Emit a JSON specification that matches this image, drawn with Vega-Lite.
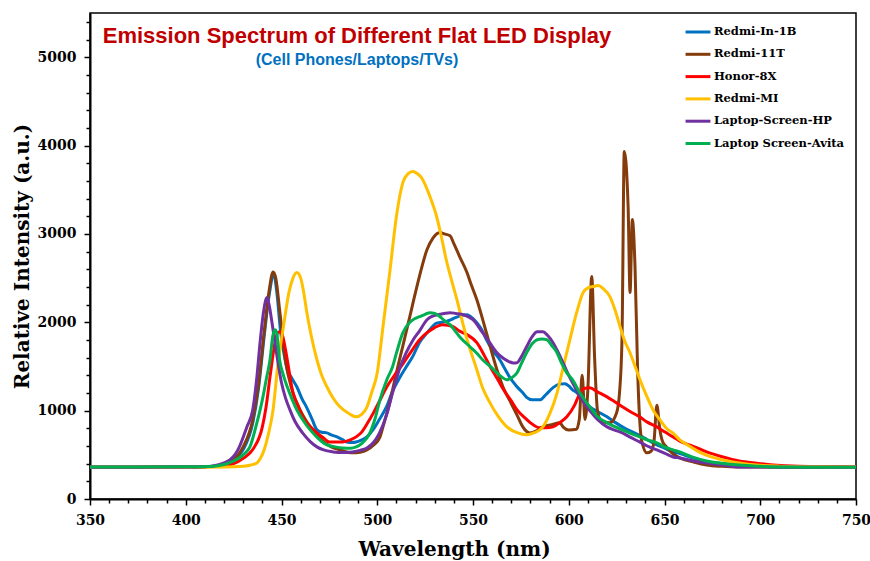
{
"$schema": "https://vega.github.io/schema/vega-lite/v6.json",
"width": 766, "height": 486,
"autosize": {"type": "none"},
"padding": {"left": 90, "top": 13, "right": 14, "bottom": 62},
"background": "white",
"view": {"stroke": "#000000", "strokeWidth": 1.5},
"title": {"text": "Emission Spectrum of Different Flat LED Display", "subtitle": "(Cell Phones/Laptops/TVs)", "anchor": "middle", "dx": -116, "offset": -56, "font": "Liberation Sans", "fontSize": 22, "fontWeight": "bold", "color": "#C00000", "subtitleFont": "Liberation Sans", "subtitleFontSize": 16, "subtitleFontWeight": "bold", "subtitleColor": "#0070C0", "subtitlePadding": 4},
"data": {"values": [
{"s":"Redmi-In-1B","w":350,"v":362},{"s":"Redmi-In-1B","w":380,"v":362},{"s":"Redmi-In-1B","w":400,"v":363},{"s":"Redmi-In-1B","w":410,"v":366},{"s":"Redmi-In-1B","w":415,"v":372},{"s":"Redmi-In-1B","w":420,"v":390},{"s":"Redmi-In-1B","w":425,"v":440},{"s":"Redmi-In-1B","w":430,"v":560},{"s":"Redmi-In-1B","w":435,"v":860},{"s":"Redmi-In-1B","w":438,"v":1250},{"s":"Redmi-In-1B","w":441,"v":1850},{"s":"Redmi-In-1B","w":443.5,"v":2300},{"s":"Redmi-In-1B","w":446,"v":2540},{"s":"Redmi-In-1B","w":447.5,"v":2350},{"s":"Redmi-In-1B","w":449.5,"v":1900},{"s":"Redmi-In-1B","w":451.5,"v":1620},{"s":"Redmi-In-1B","w":453,"v":1463},{"s":"Redmi-In-1B","w":455,"v":1380},{"s":"Redmi-In-1B","w":458,"v":1270},{"s":"Redmi-In-1B","w":461,"v":1120},{"s":"Redmi-In-1B","w":463,"v":1043},{"s":"Redmi-In-1B","w":466,"v":900},{"s":"Redmi-In-1B","w":468.5,"v":782},{"s":"Redmi-In-1B","w":471,"v":755},{"s":"Redmi-In-1B","w":473.7,"v":748},{"s":"Redmi-In-1B","w":476,"v":725},{"s":"Redmi-In-1B","w":479,"v":703},{"s":"Redmi-In-1B","w":482,"v":670},{"s":"Redmi-In-1B","w":484,"v":646},{"s":"Redmi-In-1B","w":487,"v":640},{"s":"Redmi-In-1B","w":489,"v":646},{"s":"Redmi-In-1B","w":492,"v":670},{"s":"Redmi-In-1B","w":494.6,"v":703},{"s":"Redmi-In-1B","w":498,"v":790},{"s":"Redmi-In-1B","w":501,"v":896},{"s":"Redmi-In-1B","w":505,"v":1050},{"s":"Redmi-In-1B","w":508,"v":1220},{"s":"Redmi-In-1B","w":512,"v":1383},{"s":"Redmi-In-1B","w":515,"v":1490},{"s":"Redmi-In-1B","w":518.7,"v":1620},{"s":"Redmi-In-1B","w":522,"v":1769},{"s":"Redmi-In-1B","w":526,"v":1880},{"s":"Redmi-In-1B","w":531,"v":1990},{"s":"Redmi-In-1B","w":536,"v":2010},{"s":"Redmi-In-1B","w":539.6,"v":2040},{"s":"Redmi-In-1B","w":543,"v":2070},{"s":"Redmi-In-1B","w":546.9,"v":2086},{"s":"Redmi-In-1B","w":549,"v":2060},{"s":"Redmi-In-1B","w":552,"v":1995},{"s":"Redmi-In-1B","w":555,"v":1900},{"s":"Redmi-In-1B","w":557,"v":1803},{"s":"Redmi-In-1B","w":560,"v":1690},{"s":"Redmi-In-1B","w":564,"v":1576},{"s":"Redmi-In-1B","w":567,"v":1460},{"s":"Redmi-In-1B","w":569,"v":1383},{"s":"Redmi-In-1B","w":573,"v":1270},{"s":"Redmi-In-1B","w":576,"v":1202},{"s":"Redmi-In-1B","w":578,"v":1150},{"s":"Redmi-In-1B","w":581,"v":1122},{"s":"Redmi-In-1B","w":585,"v":1122},{"s":"Redmi-In-1B","w":588,"v":1180},{"s":"Redmi-In-1B","w":591.8,"v":1260},{"s":"Redmi-In-1B","w":595,"v":1300},{"s":"Redmi-In-1B","w":598,"v":1304},{"s":"Redmi-In-1B","w":600,"v":1280},{"s":"Redmi-In-1B","w":602,"v":1236},{"s":"Redmi-In-1B","w":604.3,"v":1202},{"s":"Redmi-In-1B","w":608,"v":1110},{"s":"Redmi-In-1B","w":611,"v":1043},{"s":"Redmi-In-1B","w":615,"v":990},{"s":"Redmi-In-1B","w":620,"v":930},{"s":"Redmi-In-1B","w":624,"v":870},{"s":"Redmi-In-1B","w":628,"v":816},{"s":"Redmi-In-1B","w":632,"v":770},{"s":"Redmi-In-1B","w":637,"v":720},{"s":"Redmi-In-1B","w":641,"v":670},{"s":"Redmi-In-1B","w":646,"v":612},{"s":"Redmi-In-1B","w":650,"v":575},{"s":"Redmi-In-1B","w":654,"v":533},{"s":"Redmi-In-1B","w":658,"v":515},{"s":"Redmi-In-1B","w":664,"v":470},{"s":"Redmi-In-1B","w":672,"v":420},{"s":"Redmi-In-1B","w":680,"v":400},{"s":"Redmi-In-1B","w":689,"v":374},{"s":"Redmi-In-1B","w":700,"v":368},{"s":"Redmi-In-1B","w":720,"v":363},{"s":"Redmi-In-1B","w":750,"v":360},
{"s":"Redmi-11T","w":350,"v":360},{"s":"Redmi-11T","w":400,"v":362},{"s":"Redmi-11T","w":410,"v":365},{"s":"Redmi-11T","w":415,"v":370},{"s":"Redmi-11T","w":420,"v":390},{"s":"Redmi-11T","w":425,"v":440},{"s":"Redmi-11T","w":430,"v":590},{"s":"Redmi-11T","w":435,"v":900},{"s":"Redmi-11T","w":438,"v":1300},{"s":"Redmi-11T","w":441,"v":1900},{"s":"Redmi-11T","w":443.5,"v":2350},{"s":"Redmi-11T","w":445.6,"v":2570},{"s":"Redmi-11T","w":447,"v":2500},{"s":"Redmi-11T","w":449,"v":2143},{"s":"Redmi-11T","w":452,"v":1576},{"s":"Redmi-11T","w":455.5,"v":1236},{"s":"Redmi-11T","w":459.7,"v":1009},{"s":"Redmi-11T","w":465,"v":816},{"s":"Redmi-11T","w":472,"v":646},{"s":"Redmi-11T","w":476,"v":590},{"s":"Redmi-11T","w":480.5,"v":556},{"s":"Redmi-11T","w":487,"v":522},{"s":"Redmi-11T","w":491,"v":530},{"s":"Redmi-11T","w":494.6,"v":556},{"s":"Redmi-11T","w":498,"v":610},{"s":"Redmi-11T","w":501.4,"v":700},{"s":"Redmi-11T","w":503,"v":816},{"s":"Redmi-11T","w":506,"v":1050},{"s":"Redmi-11T","w":510,"v":1428},{"s":"Redmi-11T","w":513,"v":1700},{"s":"Redmi-11T","w":517,"v":2063},{"s":"Redmi-11T","w":519,"v":2250},{"s":"Redmi-11T","w":522,"v":2517},{"s":"Redmi-11T","w":526,"v":2823},{"s":"Redmi-11T","w":529,"v":2950},{"s":"Redmi-11T","w":532.8,"v":3016},{"s":"Redmi-11T","w":535,"v":3000},{"s":"Redmi-11T","w":538,"v":2980},{"s":"Redmi-11T","w":540,"v":2890},{"s":"Redmi-11T","w":543,"v":2744},{"s":"Redmi-11T","w":546.9,"v":2560},{"s":"Redmi-11T","w":549,"v":2430},{"s":"Redmi-11T","w":552,"v":2256},{"s":"Redmi-11T","w":557,"v":1882},{"s":"Redmi-11T","w":562.5,"v":1463},{"s":"Redmi-11T","w":566,"v":1250},{"s":"Redmi-11T","w":569,"v":1122},{"s":"Redmi-11T","w":573,"v":950},{"s":"Redmi-11T","w":576,"v":816},{"s":"Redmi-11T","w":579.7,"v":748},{"s":"Redmi-11T","w":583,"v":770},{"s":"Redmi-11T","w":586.5,"v":816},{"s":"Redmi-11T","w":591,"v":840},{"s":"Redmi-11T","w":595.4,"v":862},{"s":"Redmi-11T","w":597,"v":816},{"s":"Redmi-11T","w":600,"v":782},{"s":"Redmi-11T","w":604,"v":790},{"s":"Redmi-11T","w":605.5,"v":900},{"s":"Redmi-11T","w":607,"v":1400},{"s":"Redmi-11T","w":608.5,"v":900},{"s":"Redmi-11T","w":610,"v":1250},{"s":"Redmi-11T","w":612,"v":2517},{"s":"Redmi-11T","w":613.5,"v":1600},{"s":"Redmi-11T","w":615,"v":1000},{"s":"Redmi-11T","w":617,"v":880},{"s":"Redmi-11T","w":621.5,"v":862},{"s":"Redmi-11T","w":625,"v":975},{"s":"Redmi-11T","w":626.5,"v":1200},{"s":"Redmi-11T","w":627.8,"v":1803},{"s":"Redmi-11T","w":629,"v":3934},{"s":"Redmi-11T","w":631,"v":3310},{"s":"Redmi-11T","w":632,"v":2336},{"s":"Redmi-11T","w":633.2,"v":3163},{"s":"Redmi-11T","w":634.6,"v":2630},{"s":"Redmi-11T","w":636,"v":1428},{"s":"Redmi-11T","w":638,"v":669},{"s":"Redmi-11T","w":640.8,"v":522},{"s":"Redmi-11T","w":643,"v":540},{"s":"Redmi-11T","w":644.5,"v":650},{"s":"Redmi-11T","w":646,"v":1060},{"s":"Redmi-11T","w":647.6,"v":782},{"s":"Redmi-11T","w":649,"v":650},{"s":"Redmi-11T","w":651,"v":590},{"s":"Redmi-11T","w":654,"v":520},{"s":"Redmi-11T","w":658,"v":465},{"s":"Redmi-11T","w":665,"v":420},{"s":"Redmi-11T","w":672,"v":385},{"s":"Redmi-11T","w":680,"v":370},{"s":"Redmi-11T","w":689,"v":363},{"s":"Redmi-11T","w":720,"v":360},{"s":"Redmi-11T","w":750,"v":358},
{"s":"Honor-8X","w":350,"v":360},{"s":"Honor-8X","w":400,"v":362},{"s":"Honor-8X","w":415,"v":368},{"s":"Honor-8X","w":420,"v":378},{"s":"Honor-8X","w":425,"v":400},{"s":"Honor-8X","w":430,"v":460},{"s":"Honor-8X","w":435,"v":560},{"s":"Honor-8X","w":440,"v":816},{"s":"Honor-8X","w":442,"v":1050},{"s":"Honor-8X","w":444,"v":1383},{"s":"Honor-8X","w":446.6,"v":1769},{"s":"Honor-8X","w":448,"v":1880},{"s":"Honor-8X","w":449,"v":1893},{"s":"Honor-8X","w":450.5,"v":1850},{"s":"Honor-8X","w":452,"v":1700},{"s":"Honor-8X","w":453,"v":1576},{"s":"Honor-8X","w":456,"v":1202},{"s":"Honor-8X","w":458.5,"v":1060},{"s":"Honor-8X","w":461,"v":930},{"s":"Honor-8X","w":465,"v":820},{"s":"Honor-8X","w":468.5,"v":748},{"s":"Honor-8X","w":472,"v":690},{"s":"Honor-8X","w":475,"v":646},{"s":"Honor-8X","w":482,"v":646},{"s":"Honor-8X","w":486,"v":670},{"s":"Honor-8X","w":489,"v":703},{"s":"Honor-8X","w":492,"v":760},{"s":"Honor-8X","w":495,"v":862},{"s":"Honor-8X","w":498,"v":975},{"s":"Honor-8X","w":501,"v":1100},{"s":"Honor-8X","w":505,"v":1270},{"s":"Honor-8X","w":509,"v":1400},{"s":"Honor-8X","w":513.4,"v":1530},{"s":"Honor-8X","w":518.7,"v":1700},{"s":"Honor-8X","w":522,"v":1800},{"s":"Honor-8X","w":526,"v":1882},{"s":"Honor-8X","w":530,"v":1940},{"s":"Honor-8X","w":534,"v":1973},{"s":"Honor-8X","w":537,"v":1965},{"s":"Honor-8X","w":539.6,"v":1950},{"s":"Honor-8X","w":543,"v":1900},{"s":"Honor-8X","w":547,"v":1859},{"s":"Honor-8X","w":552,"v":1769},{"s":"Honor-8X","w":556,"v":1620},{"s":"Honor-8X","w":559,"v":1497},{"s":"Honor-8X","w":563,"v":1350},{"s":"Honor-8X","w":566,"v":1236},{"s":"Honor-8X","w":570,"v":1110},{"s":"Honor-8X","w":573,"v":1009},{"s":"Honor-8X","w":577,"v":920},{"s":"Honor-8X","w":580,"v":862},{"s":"Honor-8X","w":585,"v":805},{"s":"Honor-8X","w":588,"v":805},{"s":"Honor-8X","w":591.8,"v":816},{"s":"Honor-8X","w":595,"v":860},{"s":"Honor-8X","w":599,"v":930},{"s":"Honor-8X","w":603,"v":1060},{"s":"Honor-8X","w":606,"v":1202},{"s":"Honor-8X","w":608,"v":1250},{"s":"Honor-8X","w":611,"v":1258},{"s":"Honor-8X","w":615,"v":1213},{"s":"Honor-8X","w":620,"v":1156},{"s":"Honor-8X","w":624,"v":1100},{"s":"Honor-8X","w":628,"v":1043},{"s":"Honor-8X","w":632,"v":990},{"s":"Honor-8X","w":637,"v":930},{"s":"Honor-8X","w":641,"v":870},{"s":"Honor-8X","w":646,"v":816},{"s":"Honor-8X","w":650,"v":760},{"s":"Honor-8X","w":654.5,"v":703},{"s":"Honor-8X","w":658,"v":655},{"s":"Honor-8X","w":663,"v":612},{"s":"Honor-8X","w":668,"v":570},{"s":"Honor-8X","w":672,"v":533},{"s":"Honor-8X","w":680.5,"v":476},{"s":"Honor-8X","w":689,"v":431},{"s":"Honor-8X","w":698,"v":405},{"s":"Honor-8X","w":706.6,"v":385},{"s":"Honor-8X","w":720,"v":370},{"s":"Honor-8X","w":750,"v":362},
{"s":"Redmi-MI","w":350,"v":360},{"s":"Redmi-MI","w":400,"v":360},{"s":"Redmi-MI","w":420,"v":362},{"s":"Redmi-MI","w":430,"v":370},{"s":"Redmi-MI","w":434,"v":385},{"s":"Redmi-MI","w":437.2,"v":408},{"s":"Redmi-MI","w":439,"v":460},{"s":"Redmi-MI","w":441,"v":560},{"s":"Redmi-MI","w":443,"v":720},{"s":"Redmi-MI","w":445.6,"v":1009},{"s":"Redmi-MI","w":448,"v":1500},{"s":"Redmi-MI","w":451,"v":1950},{"s":"Redmi-MI","w":454,"v":2350},{"s":"Redmi-MI","w":456,"v":2500},{"s":"Redmi-MI","w":458,"v":2562},{"s":"Redmi-MI","w":460,"v":2500},{"s":"Redmi-MI","w":461.5,"v":2350},{"s":"Redmi-MI","w":463,"v":2143},{"s":"Redmi-MI","w":465.5,"v":1850},{"s":"Redmi-MI","w":468.5,"v":1576},{"s":"Redmi-MI","w":471,"v":1400},{"s":"Redmi-MI","w":473.7,"v":1270},{"s":"Redmi-MI","w":477,"v":1140},{"s":"Redmi-MI","w":480.5,"v":1043},{"s":"Redmi-MI","w":485,"v":970},{"s":"Redmi-MI","w":489,"v":930},{"s":"Redmi-MI","w":492,"v":960},{"s":"Redmi-MI","w":494.6,"v":1040},{"s":"Redmi-MI","w":497,"v":1200},{"s":"Redmi-MI","w":500,"v":1430},{"s":"Redmi-MI","w":503,"v":1950},{"s":"Redmi-MI","w":506.7,"v":2596},{"s":"Redmi-MI","w":510,"v":3197},{"s":"Redmi-MI","w":513.4,"v":3583},{"s":"Redmi-MI","w":516,"v":3680},{"s":"Redmi-MI","w":518.5,"v":3705},{"s":"Redmi-MI","w":521,"v":3680},{"s":"Redmi-MI","w":523,"v":3640},{"s":"Redmi-MI","w":527.5,"v":3424},{"s":"Redmi-MI","w":531,"v":3197},{"s":"Redmi-MI","w":533,"v":3016},{"s":"Redmi-MI","w":536,"v":2710},{"s":"Redmi-MI","w":541.6,"v":2256},{"s":"Redmi-MI","w":546.9,"v":1803},{"s":"Redmi-MI","w":552,"v":1463},{"s":"Redmi-MI","w":555,"v":1260},{"s":"Redmi-MI","w":558.9,"v":1088},{"s":"Redmi-MI","w":563,"v":940},{"s":"Redmi-MI","w":567.7,"v":816},{"s":"Redmi-MI","w":573,"v":750},{"s":"Redmi-MI","w":578,"v":726},{"s":"Redmi-MI","w":582,"v":750},{"s":"Redmi-MI","w":586.5,"v":816},{"s":"Redmi-MI","w":590,"v":960},{"s":"Redmi-MI","w":593.9,"v":1202},{"s":"Redmi-MI","w":597,"v":1480},{"s":"Redmi-MI","w":600.6,"v":1803},{"s":"Redmi-MI","w":604,"v":2100},{"s":"Redmi-MI","w":607.5,"v":2336},{"s":"Redmi-MI","w":610,"v":2390},{"s":"Redmi-MI","w":612.7,"v":2404},{"s":"Redmi-MI","w":615.3,"v":2415},{"s":"Redmi-MI","w":618,"v":2380},{"s":"Redmi-MI","w":621.5,"v":2290},{"s":"Redmi-MI","w":624,"v":2150},{"s":"Redmi-MI","w":626.8,"v":1950},{"s":"Redmi-MI","w":629,"v":1800},{"s":"Redmi-MI","w":632,"v":1655},{"s":"Redmi-MI","w":635,"v":1480},{"s":"Redmi-MI","w":637.2,"v":1350},{"s":"Redmi-MI","w":641,"v":1150},{"s":"Redmi-MI","w":644,"v":1009},{"s":"Redmi-MI","w":647.6,"v":896},{"s":"Redmi-MI","w":651,"v":800},{"s":"Redmi-MI","w":654.4,"v":748},{"s":"Redmi-MI","w":658,"v":669},{"s":"Redmi-MI","w":662,"v":612},{"s":"Redmi-MI","w":668,"v":533},{"s":"Redmi-MI","w":674,"v":480},{"s":"Redmi-MI","w":680.5,"v":442},{"s":"Redmi-MI","w":690,"v":405},{"s":"Redmi-MI","w":698,"v":385},{"s":"Redmi-MI","w":710,"v":372},{"s":"Redmi-MI","w":730,"v":365},{"s":"Redmi-MI","w":750,"v":362},
{"s":"Laptop-Screen-HP","w":350,"v":360},{"s":"Laptop-Screen-HP","w":400,"v":362},{"s":"Laptop-Screen-HP","w":410,"v":366},{"s":"Laptop-Screen-HP","w":415,"v":378},{"s":"Laptop-Screen-HP","w":420,"v":410},{"s":"Laptop-Screen-HP","w":423,"v":442},{"s":"Laptop-Screen-HP","w":426,"v":510},{"s":"Laptop-Screen-HP","w":428,"v":590},{"s":"Laptop-Screen-HP","w":432,"v":820},{"s":"Laptop-Screen-HP","w":435,"v":1009},{"s":"Laptop-Screen-HP","w":437,"v":1350},{"s":"Laptop-Screen-HP","w":438.8,"v":1769},{"s":"Laptop-Screen-HP","w":440.5,"v":2100},{"s":"Laptop-Screen-HP","w":442.4,"v":2279},{"s":"Laptop-Screen-HP","w":443.5,"v":2200},{"s":"Laptop-Screen-HP","w":445,"v":2000},{"s":"Laptop-Screen-HP","w":446.6,"v":1769},{"s":"Laptop-Screen-HP","w":450,"v":1315},{"s":"Laptop-Screen-HP","w":452,"v":1150},{"s":"Laptop-Screen-HP","w":454.4,"v":1009},{"s":"Laptop-Screen-HP","w":457,"v":880},{"s":"Laptop-Screen-HP","w":461,"v":748},{"s":"Laptop-Screen-HP","w":465,"v":650},{"s":"Laptop-Screen-HP","w":468.5,"v":590},{"s":"Laptop-Screen-HP","w":472,"v":555},{"s":"Laptop-Screen-HP","w":477,"v":533},{"s":"Laptop-Screen-HP","w":482,"v":525},{"s":"Laptop-Screen-HP","w":487,"v":533},{"s":"Laptop-Screen-HP","w":491,"v":550},{"s":"Laptop-Screen-HP","w":494.6,"v":578},{"s":"Laptop-Screen-HP","w":498,"v":640},{"s":"Laptop-Screen-HP","w":501,"v":740},{"s":"Laptop-Screen-HP","w":505,"v":960},{"s":"Laptop-Screen-HP","w":508,"v":1202},{"s":"Laptop-Screen-HP","w":512,"v":1497},{"s":"Laptop-Screen-HP","w":515,"v":1650},{"s":"Laptop-Screen-HP","w":518.7,"v":1800},{"s":"Laptop-Screen-HP","w":522,"v":1900},{"s":"Laptop-Screen-HP","w":526,"v":2029},{"s":"Laptop-Screen-HP","w":529,"v":2070},{"s":"Laptop-Screen-HP","w":532.8,"v":2090},{"s":"Laptop-Screen-HP","w":535,"v":2100},{"s":"Laptop-Screen-HP","w":538,"v":2109},{"s":"Laptop-Screen-HP","w":541,"v":2100},{"s":"Laptop-Screen-HP","w":545,"v":2086},{"s":"Laptop-Screen-HP","w":550,"v":2029},{"s":"Laptop-Screen-HP","w":555,"v":1882},{"s":"Laptop-Screen-HP","w":559,"v":1760},{"s":"Laptop-Screen-HP","w":562.5,"v":1655},{"s":"Laptop-Screen-HP","w":566,"v":1590},{"s":"Laptop-Screen-HP","w":569,"v":1553},{"s":"Laptop-Screen-HP","w":571,"v":1540},{"s":"Laptop-Screen-HP","w":573,"v":1542},{"s":"Laptop-Screen-HP","w":575,"v":1600},{"s":"Laptop-Screen-HP","w":578,"v":1723},{"s":"Laptop-Screen-HP","w":581,"v":1840},{"s":"Laptop-Screen-HP","w":583.5,"v":1893},{"s":"Laptop-Screen-HP","w":586.5,"v":1893},{"s":"Laptop-Screen-HP","w":589,"v":1850},{"s":"Laptop-Screen-HP","w":591.8,"v":1769},{"s":"Laptop-Screen-HP","w":594,"v":1680},{"s":"Laptop-Screen-HP","w":597,"v":1542},{"s":"Laptop-Screen-HP","w":600,"v":1400},{"s":"Laptop-Screen-HP","w":604,"v":1236},{"s":"Laptop-Screen-HP","w":607,"v":1120},{"s":"Laptop-Screen-HP","w":611,"v":1000},{"s":"Laptop-Screen-HP","w":615,"v":900},{"s":"Laptop-Screen-HP","w":620,"v":816},{"s":"Laptop-Screen-HP","w":624,"v":780},{"s":"Laptop-Screen-HP","w":628,"v":748},{"s":"Laptop-Screen-HP","w":632,"v":700},{"s":"Laptop-Screen-HP","w":637,"v":646},{"s":"Laptop-Screen-HP","w":641,"v":600},{"s":"Laptop-Screen-HP","w":646,"v":556},{"s":"Laptop-Screen-HP","w":650,"v":520},{"s":"Laptop-Screen-HP","w":654.5,"v":476},{"s":"Laptop-Screen-HP","w":658,"v":465},{"s":"Laptop-Screen-HP","w":664,"v":435},{"s":"Laptop-Screen-HP","w":672,"v":408},{"s":"Laptop-Screen-HP","w":680,"v":385},{"s":"Laptop-Screen-HP","w":689,"v":363},{"s":"Laptop-Screen-HP","w":720,"v":360},{"s":"Laptop-Screen-HP","w":750,"v":358},
{"s":"Laptop Screen-Avita","w":350,"v":362},{"s":"Laptop Screen-Avita","w":400,"v":364},{"s":"Laptop Screen-Avita","w":415,"v":372},{"s":"Laptop Screen-Avita","w":420,"v":390},{"s":"Laptop Screen-Avita","w":425,"v":430},{"s":"Laptop Screen-Avita","w":430,"v":500},{"s":"Laptop Screen-Avita","w":433.5,"v":590},{"s":"Laptop Screen-Avita","w":437,"v":850},{"s":"Laptop Screen-Avita","w":440,"v":1122},{"s":"Laptop Screen-Avita","w":442,"v":1350},{"s":"Laptop Screen-Avita","w":444,"v":1576},{"s":"Laptop Screen-Avita","w":445.5,"v":1850},{"s":"Laptop Screen-Avita","w":446.6,"v":1916},{"s":"Laptop Screen-Avita","w":447.5,"v":1880},{"s":"Laptop Screen-Avita","w":449,"v":1576},{"s":"Laptop Screen-Avita","w":451,"v":1400},{"s":"Laptop Screen-Avita","w":453,"v":1270},{"s":"Laptop Screen-Avita","w":455.5,"v":1130},{"s":"Laptop Screen-Avita","w":458,"v":1009},{"s":"Laptop Screen-Avita","w":461,"v":900},{"s":"Laptop Screen-Avita","w":465,"v":782},{"s":"Laptop Screen-Avita","w":469,"v":690},{"s":"Laptop Screen-Avita","w":473.7,"v":612},{"s":"Laptop Screen-Avita","w":478,"v":590},{"s":"Laptop Screen-Avita","w":482,"v":578},{"s":"Laptop Screen-Avita","w":486,"v":575},{"s":"Laptop Screen-Avita","w":489,"v":590},{"s":"Laptop Screen-Avita","w":492,"v":630},{"s":"Laptop Screen-Avita","w":496,"v":740},{"s":"Laptop Screen-Avita","w":499,"v":920},{"s":"Laptop Screen-Avita","w":501.4,"v":1122},{"s":"Laptop Screen-Avita","w":505,"v":1350},{"s":"Laptop Screen-Avita","w":508,"v":1497},{"s":"Laptop Screen-Avita","w":510,"v":1650},{"s":"Laptop Screen-Avita","w":513.4,"v":1882},{"s":"Laptop Screen-Avita","w":517,"v":2000},{"s":"Laptop Screen-Avita","w":519.5,"v":2040},{"s":"Laptop Screen-Avita","w":522,"v":2063},{"s":"Laptop Screen-Avita","w":525,"v":2090},{"s":"Laptop Screen-Avita","w":527.5,"v":2109},{"s":"Laptop Screen-Avita","w":530,"v":2100},{"s":"Laptop Screen-Avita","w":532.8,"v":2063},{"s":"Laptop Screen-Avita","w":535,"v":2020},{"s":"Laptop Screen-Avita","w":538,"v":1973},{"s":"Laptop Screen-Avita","w":540,"v":1920},{"s":"Laptop Screen-Avita","w":543,"v":1837},{"s":"Laptop Screen-Avita","w":548.4,"v":1723},{"s":"Laptop Screen-Avita","w":552,"v":1650},{"s":"Laptop Screen-Avita","w":555,"v":1576},{"s":"Laptop Screen-Avita","w":559,"v":1500},{"s":"Laptop Screen-Avita","w":562.5,"v":1428},{"s":"Laptop Screen-Avita","w":565,"v":1380},{"s":"Laptop Screen-Avita","w":567.7,"v":1349},{"s":"Laptop Screen-Avita","w":570,"v":1370},{"s":"Laptop Screen-Avita","w":573,"v":1428},{"s":"Laptop Screen-Avita","w":575,"v":1520},{"s":"Laptop Screen-Avita","w":578,"v":1655},{"s":"Laptop Screen-Avita","w":581,"v":1760},{"s":"Laptop Screen-Avita","w":583.5,"v":1803},{"s":"Laptop Screen-Avita","w":586,"v":1810},{"s":"Laptop Screen-Avita","w":588.6,"v":1803},{"s":"Laptop Screen-Avita","w":591,"v":1740},{"s":"Laptop Screen-Avita","w":593.9,"v":1655},{"s":"Laptop Screen-Avita","w":596,"v":1550},{"s":"Laptop Screen-Avita","w":599,"v":1428},{"s":"Laptop Screen-Avita","w":602,"v":1349},{"s":"Laptop Screen-Avita","w":605.8,"v":1202},{"s":"Laptop Screen-Avita","w":609,"v":1100},{"s":"Laptop Screen-Avita","w":611,"v":1043},{"s":"Laptop Screen-Avita","w":614.7,"v":940},{"s":"Laptop Screen-Avita","w":620,"v":862},{"s":"Laptop Screen-Avita","w":624,"v":820},{"s":"Laptop Screen-Avita","w":628,"v":782},{"s":"Laptop Screen-Avita","w":632,"v":745},{"s":"Laptop Screen-Avita","w":637,"v":703},{"s":"Laptop Screen-Avita","w":641,"v":670},{"s":"Laptop Screen-Avita","w":646,"v":635},{"s":"Laptop Screen-Avita","w":650,"v":590},{"s":"Laptop Screen-Avita","w":654.5,"v":556},{"s":"Laptop Screen-Avita","w":658,"v":533},{"s":"Laptop Screen-Avita","w":664,"v":480},{"s":"Laptop Screen-Avita","w":672,"v":431},{"s":"Laptop Screen-Avita","w":680,"v":405},{"s":"Laptop Screen-Avita","w":689,"v":385},{"s":"Laptop Screen-Avita","w":698,"v":372},{"s":"Laptop Screen-Avita","w":706.6,"v":363},{"s":"Laptop Screen-Avita","w":730,"v":360},{"s":"Laptop Screen-Avita","w":750,"v":360}
]},
"mark": {"type": "line", "interpolate": "monotone", "strokeWidth": 3, "clip": true},
"encoding": {
  "x": {"field": "w", "type": "quantitative", "scale": {"domain": [350, 750], "nice": false, "zero": false},
    "axis": {"title": "Wavelength (nm)", "values": [350,360,370,380,390,400,410,420,430,440,450,460,470,480,490,500,510,520,530,540,550,560,570,580,590,600,610,620,630,640,650,660,670,680,690,700,710,720,730,740,750],
      "labelExpr": "datum.value % 50 === 0 ? datum.label : ''", "labelOverlap": false, "labelFlush": false, "grid": false,
      "domainColor": "#000000", "domainWidth": 2, "tickColor": "#000000", "tickWidth": 1.5,
      "tickSize": {"condition": {"test": "datum.value % 50 === 0", "value": 6}, "value": 4},
      "labelFont": "DejaVu Serif", "labelFontSize": 14, "labelFontWeight": "bold", "labelColor": "#000000", "labelPadding": 8,
      "titleFont": "DejaVu Serif", "titleFontSize": 20, "titleFontWeight": "bold", "titleColor": "#000000", "titlePadding": 12, "titleX": 364}},
  "y": {"field": "v", "type": "quantitative", "scale": {"domain": [0, 5500], "nice": false},
    "axis": {"title": "Relative Intensity (a.u.)", "values": [0,200,400,600,800,1000,1200,1400,1600,1800,2000,2200,2400,2600,2800,3000,3200,3400,3600,3800,4000,4200,4400,4600,4800,5000,5200,5400],
      "labelExpr": "datum.value % 1000 === 0 ? datum.label : ''", "labelOverlap": false, "labelFlush": false, "grid": false, "format": "d",
      "domainColor": "#000000", "domainWidth": 2, "tickColor": "#000000", "tickWidth": 1.5,
      "tickSize": {"condition": {"test": "datum.value % 1000 === 0", "value": 6}, "value": 4},
      "labelFont": "DejaVu Serif", "labelFontSize": 14, "labelFontWeight": "bold", "labelColor": "#000000", "labelPadding": 8,
      "titleFont": "DejaVu Serif", "titleFontSize": 20, "titleFontWeight": "bold", "titleColor": "#000000", "titlePadding": 5}},
  "color": {"field": "s", "type": "nominal",
    "scale": {"domain": ["Redmi-In-1B", "Redmi-11T", "Honor-8X", "Redmi-MI", "Laptop-Screen-HP", "Laptop Screen-Avita"], "range": ["#0070C0", "#843C0C", "#FF0000", "#FFC000", "#7030A0", "#00B050"]},
    "legend": {"title": null, "orient": "none", "legendX": 594, "legendY": 5, "symbolType": "stroke", "symbolStrokeWidth": 3, "symbolSize": 620, "labelFont": "DejaVu Serif", "labelFontSize": 11.5, "labelFontWeight": "bold", "labelColor": "#000000", "labelOffset": 2, "rowPadding": 2.3}}
}
}
